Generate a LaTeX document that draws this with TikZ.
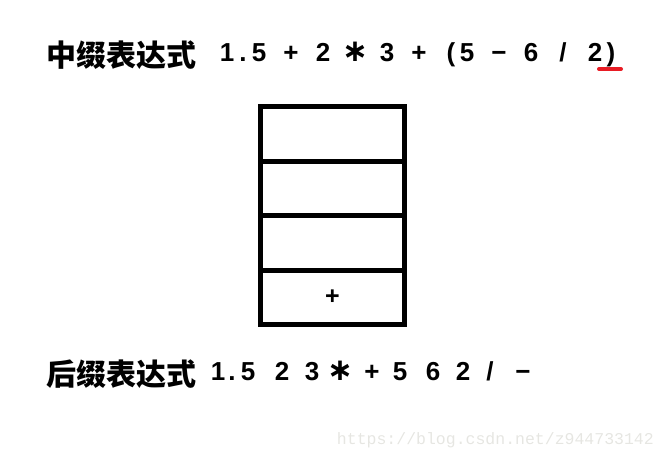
\documentclass[tikz,border=0pt]{standalone}
\usepackage{fontspec}
\setmainfont{Liberation Sans}
\newfontfamily\cjk{Noto Sans CJK SC}
\newfontfamily\wmfont{Liberation Mono}
\newfontfamily\symfont{DejaVu Sans}
\definecolor{stk}{HTML}{000000}
\definecolor{ulred}{HTML}{E81C24}
\definecolor{wmgray}{HTML}{E6E6E2}
\newcommand{\opstar}{{\symfont\bfseries\fontsize{31}{31}\selectfont ∗}}
\newcommand{\opminus}{−}
\tikzset{
  cell/.style={draw=stk, line width=5pt, minimum width=144pt, minimum height=54.5pt, inner sep=0pt, font=\bfseries\fontsize{25}{25}\selectfont},
  title/.style={font=\cjk\bfseries\fontsize{30}{30}\selectfont, inner sep=0pt},
  tok/.style={font=\bfseries\fontsize{26}{26}\selectfont, inner sep=0pt, anchor=base}
}

\begin{document}
\begin{tikzpicture}[x=1pt, y=-1pt]
	\useasboundingbox (0,0) rectangle (666,460);

	% headings
	\node[title, anchor=west] (infix) at (46,55.5) {中缀表达式};
	\node[title, anchor=west] (postfix) at (46,374.5) {后缀表达式};

	% infix expression, one token per position
	\foreach \x/\t [count=\i] in {227/1, 243/., 259/5, 291/+, 323/2, 355/\opstar, 387/3, 419/+,
			451/(, 467/5, 499/\opminus, 531/6, 563/{/}, 595/2, 611/)}
		\node[tok] (in\i) at (\x,62) {\t};

	% postfix expression
	\foreach \x/\t [count=\i] in {218/1, 232/., 248/5, 282/2, 312/3, 340/\opstar, 372/+,
			400/5, 433/6, 463/2, 490/{/}, 523/\opminus}
		\node[tok] (post\i) at (\x,380) {\t};

	\coordinate (ula) at (599,69);
	\coordinate (ulb) at (621,69);
	\draw[ulred, line width=4pt, line cap=round] (ula) -- (ulb);

	% operator stack
	\node[cell] (s4) at (332.5,133.75) {};
	\node[cell] (s3) at (332.5,188.25) {};
	\node[cell] (s2) at (332.5,242.75) {};
	\node[cell] (s1) at (332.5,297.25) {+};

	\node[wmgray, font=\wmfont\fontsize{16.5}{16.5}\selectfont, anchor=east, inner sep=0pt] (wm) at (654,440) {https://blog.csdn.net/z944733142};
\end{tikzpicture}
\end{document}
